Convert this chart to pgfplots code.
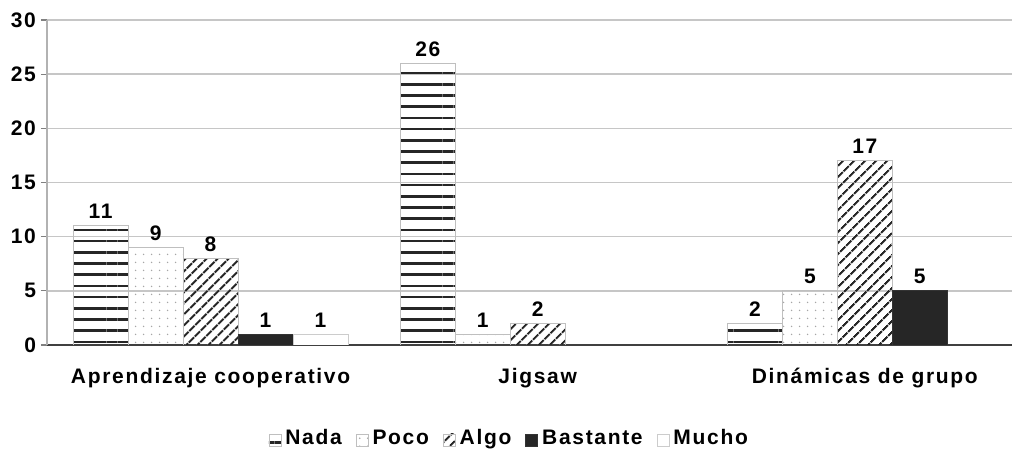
\documentclass[border=0pt]{standalone}
\usepackage{fontspec}
\setmainfont{Liberation Sans}
\usepackage{pgfplots}
\pgfplotsset{compat=1.18}
\usetikzlibrary{patterns.meta}
\newfontfamily\chartfont[LetterSpace=8]{Liberation Sans}
\newcommand{\cf}{\chartfont\fontsize{10.5}{12}\selectfont\bfseries}
\begin{document}
\begin{tikzpicture}
\begin{axis}[
  scale only axis, width=482.5pt, height=162.5pt,
  at={(0,0)}, anchor=south west,
  ybar=0pt, bar width=0.168,
  xmin=-0.5, xmax=2.45, ymin=0, ymax=30,
  xtick={0,1,2},
  xticklabels={Aprendizaje cooperativo, Jigsaw, Dinámicas de grupo},
  ytick={0,5,...,30},
  ymajorgrids, grid style={gray!45, line width=0.8pt},
  axis x line*=bottom, axis y line*=left,
  x axis line style={black!75, line width=1pt},
  y axis line style={gray!60, line width=1.2pt},
  xtick style={draw=none}, ytick style={gray, line width=0.6pt},
  tick align=outside, major tick length=3pt,
  tick label style={font=\cf},
  yticklabel style={xshift=1pt},
  xticklabel style={yshift=-5pt},
  /pgf/number format/assume math mode=true,
  nodes near coords,
  nodes near coords style={font=\cf, black},
  legend columns=5,
  legend style={at={(0.48,-0.292)}, anchor=center, draw=none, font=\cf,
    nodes={text height=0.75em, text depth=0.25em},
    /tikz/every even column/.append style={column sep=5pt}},
  legend image code/.code={\draw[#1] (0pt,-3pt) rectangle (6pt,3pt);},
]
\addplot[draw=gray!50, fill=white, pattern={Lines[angle=0,distance=5.6pt,line width=1.3pt]}, pattern color=black!85]
  coordinates {(0,11) (1,26) (2,2)};
\addlegendentry{Nada}
\addplot[draw=gray!50, fill=white, pattern={Dots[distance=4pt,radius=0.45pt]}, pattern color=gray!70]
  coordinates {(0,9) (1,1) (2,5)};
\addlegendentry{Poco}
\addplot[draw=gray!50, fill=white, pattern={Lines[angle=45,distance=4pt,line width=1.1pt]}, pattern color=black!85]
  coordinates {(0,8) (1,2) (2,17)};
\addlegendentry{Algo}
\addplot[draw=black!80, fill=black!85]
  coordinates {(0,1) (2,5)};
\addlegendentry{Bastante}
\addplot[draw=gray!40, fill=white]
  coordinates {(0,1)};
\addlegendentry{Mucho}
\end{axis}
\pgfresetboundingbox
\path[use as bounding box] (-23.5pt,-54.5pt) rectangle (484pt,172.5pt);
\end{tikzpicture}
\end{document}
